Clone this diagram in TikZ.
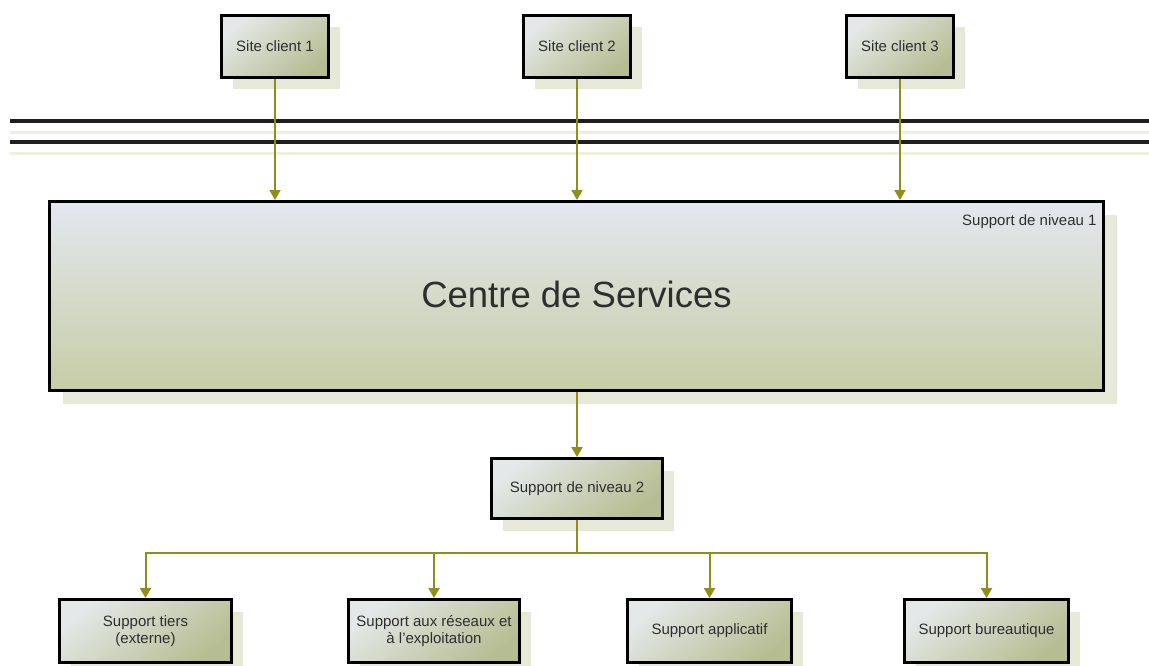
\documentclass[tikz,border=0pt]{standalone}
\usepackage{fontspec}
\setmainfont{Liberation Sans}
\usetikzlibrary{arrows.meta,shadows}
\definecolor{olivel}{HTML}{8E8E18}
\definecolor{shadowc}{HTML}{E7E9D8}
\definecolor{boxlight}{HTML}{E4E8E8}
\definecolor{boxdark}{HTML}{B7BD93}
\definecolor{biglight}{HTML}{E4E7EF}
\definecolor{bigdark}{HTML}{C6CDA5}
\definecolor{txt}{HTML}{2E2E2E}
\definecolor{paleline}{HTML}{EEEFDC}
\tikzset{
  unitbox/.style={draw=black, line width=3pt, inner sep=2pt, align=center,
    text=txt, font=\fontsize{15}{17}\selectfont,
    top color=boxlight, bottom color=boxdark, shading angle=40,
    general shadow={fill=shadowc, shadow xshift=11pt, shadow yshift=-12pt}},
  bigbox/.style={draw=black, line width=3pt, inner sep=0pt,
    top color=biglight, bottom color=bigdark,
    general shadow={fill=shadowc, shadow xshift=13pt, shadow yshift=-13pt}},
  flow/.style={draw=olivel, line width=2pt, -{Triangle[width=11pt,length=10pt]}},
  link/.style={draw=olivel, line width=2pt},
  trunk/.style={line width=3.2pt, draw=black!88},
  trunkpale/.style={line width=3pt, draw=paleline}
}
\begin{document}
\begin{tikzpicture}[x=1pt,y=-1pt]
\useasboundingbox (0,0) rectangle (1149,666);

% network backbone
\draw[trunkpale] (10,133) -- (1149,133);
\draw[trunkpale] (10,154) -- (1149,154);
\draw[trunk] (10,121) -- (1149,121);
\draw[trunk] (10,142) -- (1149,142);

% client sites
\node[unitbox, minimum width=107pt, minimum height=62pt] (s1) at (275,46.5) {Site client 1};
\node[unitbox, minimum width=107pt, minimum height=62pt] (s2) at (577,46.5) {Site client 2};
\node[unitbox, minimum width=107pt, minimum height=62pt] (s3) at (900,46.5) {Site client 3};

% service desk
\node[bigbox, minimum width=1054pt, minimum height=189pt] (centre) at (576.5,296) {};
\node[text=txt, font=\fontsize{36.5}{42}\selectfont] (ctitle) at (576.5,294) {Centre de Services};
\node[text=txt, font=\fontsize{15}{17}\selectfont, anchor=east] (lvl1) at (1100,222) {Support de niveau 1};

% second level
\node[unitbox, minimum width=171pt, minimum height=60pt] (n2) at (577,488.5) {Support de niveau 2};

% specialised teams
\node[unitbox, minimum width=172pt, minimum height=63pt] (b1) at (145.5,631) {Support tiers\\(externe)};
\node[unitbox, minimum width=171pt, minimum height=63pt] (b2) at (434,631) {Support aux réseaux et\\à l’exploitation};
\node[unitbox, minimum width=164pt, minimum height=63pt] (b3) at (709.5,631) {Support applicatif};
\node[unitbox, minimum width=164pt, minimum height=63pt] (b4) at (986.5,631) {Support bureautique};

% connectors
\draw[flow] (s1) -- (s1 |- centre.north);
\draw[flow] (s2) -- (s2 |- centre.north);
\draw[flow] (s3) -- (s3 |- centre.north);
\draw[flow] (centre.south -| n2) -- (n2);

\coordinate (br) at (577,553);
\draw[link] (n2) -- (br);
\draw[flow] (br) -| (b1);
\draw[flow] (br) -| (b2);
\draw[flow] (br) -| (b3);
\draw[flow] (br) -| (b4);
\end{tikzpicture}
\end{document}
